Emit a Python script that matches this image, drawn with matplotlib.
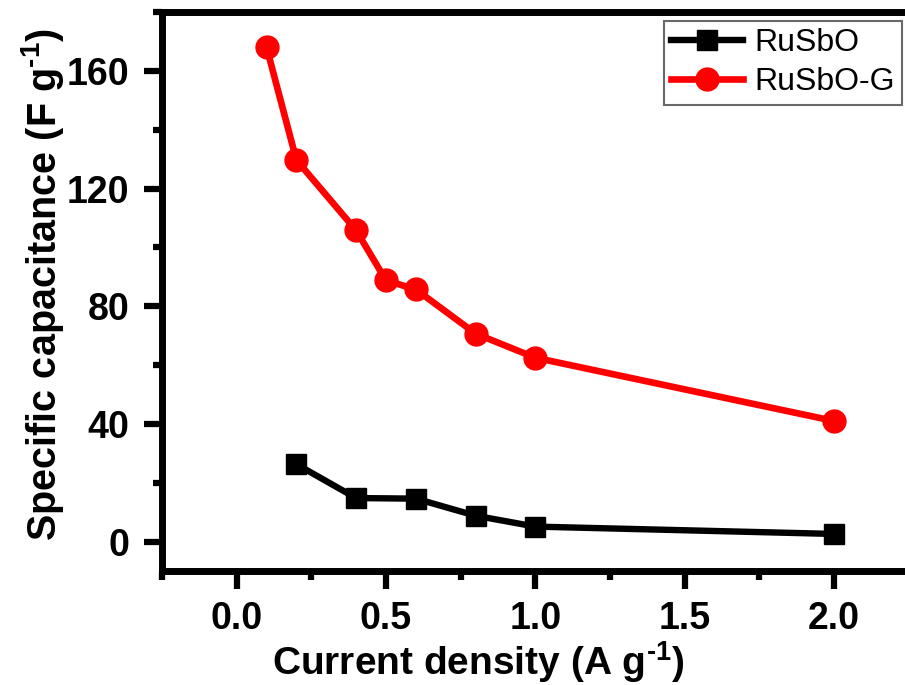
import matplotlib
matplotlib.use("Agg")
import matplotlib.pyplot as plt
from matplotlib.ticker import MultipleLocator

plt.rcParams['font.family'] = ['Liberation Sans', 'DejaVu Sans']
plt.rcParams['mathtext.fontset'] = 'custom'
plt.rcParams['mathtext.rm'] = 'Liberation Sans:bold'
plt.rcParams['mathtext.bf'] = 'Liberation Sans:bold'
plt.rcParams['mathtext.default'] = 'bf'

# Current density (A/g) and specific capacitance (F/g)
x_rusbo = [0.2, 0.4, 0.6, 0.8, 1.0, 2.0]
y_rusbo = [26.3, 14.8, 14.6, 8.8, 5.1, 2.6]

x_rusbog = [0.1, 0.2, 0.4, 0.5, 0.6, 0.8, 1.0, 2.0]
y_rusbog = [168.1, 129.7, 105.8, 88.8, 85.7, 70.7, 62.5, 41.0]

labels = ["RuSbO", "RuSbO-G"]
xticks = [0.0, 0.5, 1.0, 1.5, 2.0]
yticks = [0, 40, 80, 120, 160]

fig = plt.figure(figsize=(9.05, 6.85), dpi=100)
ax = fig.add_axes([0.179, 0.1664, 0.825, 0.816])

ax.plot(x_rusbo, y_rusbo, color='black', lw=4.6, marker='s', ms=14.5,
        label=labels[0])
ax.plot(x_rusbog, y_rusbog, color='#ff0000', lw=4.8, marker='o', ms=16.5,
        label=labels[1])

ax.set_xlim(-0.25, 2.25)
ax.set_ylim(-10, 180)
ax.set_xticks(xticks)
ax.set_yticks(yticks)
ax.xaxis.set_minor_locator(MultipleLocator(0.25))
ax.yaxis.set_minor_locator(MultipleLocator(20))
ax.set_xticklabels([f"{v:.1f}" for v in xticks])

for s in ax.spines.values():
    s.set_linewidth(5)

ax.tick_params(which='major', direction='out', length=13, width=4.5,
               labelsize=27, pad=10.5)
ax.tick_params(axis='x', which='major', pad=8.5)
ax.tick_params(which='minor', direction='out', length=6.5, width=4.5)
for lab in ax.get_xticklabels() + ax.get_yticklabels():
    lab.set_fontweight('bold')

leg = ax.legend(loc='upper right', bbox_to_anchor=(0.991, 0.984),
                fontsize=23, frameon=True, fancybox=False,
                edgecolor='#444444', handlelength=2.25, handletextpad=0.35,
                borderpad=0.23, labelspacing=0.28, borderaxespad=0.0)
leg.get_frame().set_linewidth(1.5)

fig.text(0.528, 0.033, r'Current density (A g$^{\text{-1}}$)', ha='center',
         va='center', fontsize=28, fontweight='bold')
fig.text(0.047, 0.584, r'Specific capacitance (F g$^{\text{-1}}$)',
         ha='center', va='center', rotation=90, fontsize=28.5,
         fontweight='bold')

fig.savefig('out.png', dpi=100)
